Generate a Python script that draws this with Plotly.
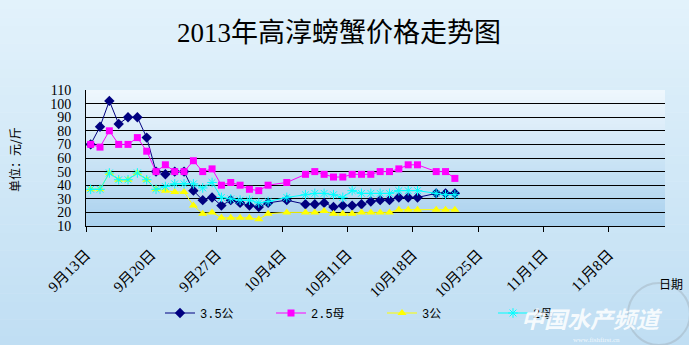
import pandas as pd
import plotly.graph_objects as go

# Daily quotes (元/斤); holidays 10/3, 10/5 and 10/19 have no quote
dates = [
    "2013-09-13", "2013-09-14", "2013-09-15", "2013-09-16", "2013-09-17",
    "2013-09-18", "2013-09-19", "2013-09-20", "2013-09-21", "2013-09-22",
    "2013-09-23", "2013-09-24", "2013-09-25", "2013-09-26", "2013-09-27",
    "2013-09-28", "2013-09-29", "2013-09-30", "2013-10-01", "2013-10-02",
    "2013-10-04", "2013-10-06", "2013-10-07", "2013-10-08", "2013-10-09",
    "2013-10-10", "2013-10-11", "2013-10-12", "2013-10-13", "2013-10-14",
    "2013-10-15", "2013-10-16", "2013-10-17", "2013-10-18", "2013-10-20",
    "2013-10-21", "2013-10-22",
]
male_35 = [70, 83, 102, 85, 90, 90, 75, 50, 48, 50, 50, 36, 29, 31, 25, 29, 27, 25, 24, 27,
           29, 26, 26, 27, 24, 25, 25, 26, 28, 29, 29, 31, 31, 31, 34, 34, 34]
female_25 = [70, 68, 80, 70, 70, 75, 65, 50, 55, 50, 50, 58, 50, 52, 40, 42, 40, 37, 36, 40,
             42, 48, 50, 48, 46, 46, 48, 48, 48, 50, 50, 52, 55, 55, 50, 50, 45]
male_3 = [37, 37, 49, 44, 44, 49, 44, 37, 36, 35, 35, 25, 19, 20, 16, 16, 16, 16, 15, 19,
          20, 20, 20, 21, 19, 19, 19, 20, 20, 20, 20, 22, 22, 22, 22, 22, 22]
female_2 = [37, 37, 49, 44, 44, 49, 44, 37, 39, 41, 41, 41, 38, 42, 31, 30, 29, 29, 27, 28,
            31, 33, 34, 34, 33, 31, 36, 34, 34, 34, 34, 36, 36, 36, 34, 33, 33]

series_names = ["3.5公", "2.5母", "3公", "2母"]

tick_dates = ["2013-09-13", "2013-09-20", "2013-09-27", "2013-10-04", "2013-10-11",
              "2013-10-18", "2013-10-25", "2013-11-01", "2013-11-08"]
tick_labels = ["9月13日", "9月20日", "9月27日", "10月4日", "10月11日",
               "10月18日", "10月25日", "11月1日", "11月8日"]

# each day's value sits in the middle of its one-day slot
x_days = pd.to_datetime(dates) + pd.Timedelta(hours=12)

W, H = 689, 345
ML, MR, MT, MB = 86, 24, 90, 119
PW, PH = W - ML - MR, H - MT - MB


def px_x(px):
    return (px - ML) / PW


def px_y(py):
    return (H - MB - py) / PH


def lerp(c0, c1, t):
    return "rgb(%d,%d,%d)" % tuple(round(a + (b - a) * t) for a, b in zip(c0, c1))


shapes = []
# page background gradient
N = 40
for i in range(N):
    y0 = i * H / N
    y1 = (i + 1) * H / N + 0.6
    shapes.append(dict(type="rect", xref="paper", yref="paper", layer="below",
                       x0=px_x(0), x1=px_x(W), y0=px_y(y1), y1=px_y(y0),
                       line=dict(width=0),
                       fillcolor=lerp((226, 242, 251), (192, 222, 243), i / (N - 1))))
# plot area gradient
for i in range(N):
    y0 = MT + i * PH / N
    y1 = MT + (i + 1) * PH / N + 0.6
    shapes.append(dict(type="rect", xref="paper", yref="paper", layer="below",
                       x0=0, x1=1, y0=px_y(min(y1, H - MB)), y1=px_y(y0),
                       line=dict(width=0),
                       fillcolor=lerp((238, 247, 253), (170, 209, 238), i / (N - 1))))
# faint globe of the watermark
shapes.append(dict(type="circle", xref="paper", yref="paper", layer="above",
                   x0=px_x(628), x1=px_x(690), y0=px_y(345), y1=px_y(283),
                   line=dict(color="rgba(150,160,170,0.35)", width=2)))

fig = go.Figure()
styles = [
    (male_35, dict(symbol="diamond", size=8, color="#000080"), "#000080"),
    (female_25, dict(symbol="square", size=7, color="#FF00FF"), "#FF00FF"),
    (male_3, dict(symbol="triangle-up", size=8, color="#FFFF00"), "#FFFF00"),
    (female_2, dict(symbol="asterisk-open", size=8, color="#00FFFF",
                    line=dict(color="#00FFFF", width=1)), "#00FFFF"),
]
for name, (vals, mk, col) in zip(series_names, styles):
    fig.add_trace(go.Scatter(x=x_days, y=vals, name=name, mode="lines+markers",
                             line=dict(color=col, width=1), marker=mk))

fig.update_layout(
    width=W, height=H,
    margin=dict(l=ML, r=MR, t=MT, b=MB),
    paper_bgcolor="rgba(0,0,0,0)", plot_bgcolor="rgba(0,0,0,0)",
    shapes=shapes,
    title=dict(text="2013年高淳螃蟹价格走势图", x=339 / W, xanchor="center",
               y=1 - 33 / H, yanchor="middle",
               font=dict(family="Liberation Serif, Noto Sans CJK SC", size=27, color="black")),
    xaxis=dict(type="date", range=["2013-09-13", "2013-11-14"],
               tickvals=pd.to_datetime(tick_dates), ticktext=tick_labels,
               tickangle=-45, ticks="outside", ticklen=5, tickcolor="black",
               ticklabelstandoff=8,
               showline=True, linecolor="black", linewidth=1, showgrid=False,
               tickfont=dict(family="Liberation Serif, Noto Sans CJK SC", size=15, color="black")),
    yaxis=dict(range=[10, 110], dtick=10, tick0=10, showgrid=True, gridcolor="black",
               gridwidth=1, showline=True, linecolor="black", linewidth=1,
               zeroline=False, ticks="", ticklabelstandoff=11,
               tickfont=dict(family="Liberation Serif", size=14, color="black")),
    legend=dict(orientation="h", x=px_x(160), y=px_y(313), xanchor="left", yanchor="middle",
                entrywidth=66, entrywidthmode="pixels", bgcolor="rgba(0,0,0,0)",
                font=dict(family="Liberation Mono, Noto Sans CJK SC", size=12, color="black")),
    showlegend=True,
)

fig.add_annotation(text="单位：元/斤", xref="paper", yref="paper", x=px_x(14), y=px_y(160),
                   textangle=-90, showarrow=False, xanchor="center", yanchor="middle",
                   font=dict(family="Noto Sans CJK SC", size=12, color="black"))
fig.add_annotation(text="日期", xref="paper", yref="paper", x=px_x(671), y=px_y(283),
                   showarrow=False, xanchor="center", yanchor="middle",
                   font=dict(family="Noto Sans CJK SC", size=12, color="black"))
fig.add_annotation(text="<b><i>中国水产频道</i></b>", xref="paper", yref="paper",
                   x=px_x(592), y=px_y(318), showarrow=False, xanchor="center", yanchor="middle",
                   font=dict(family="Noto Sans CJK SC", size=23, color="rgba(255,255,255,0.85)"))
fig.add_annotation(text="www.fishfirst.cn", xref="paper", yref="paper",
                   x=px_x(596), y=px_y(340), showarrow=False, xanchor="center", yanchor="middle",
                   font=dict(family="Liberation Serif", size=7, color="rgba(255,255,255,0.8)"))

fig.write_html("out.html")
